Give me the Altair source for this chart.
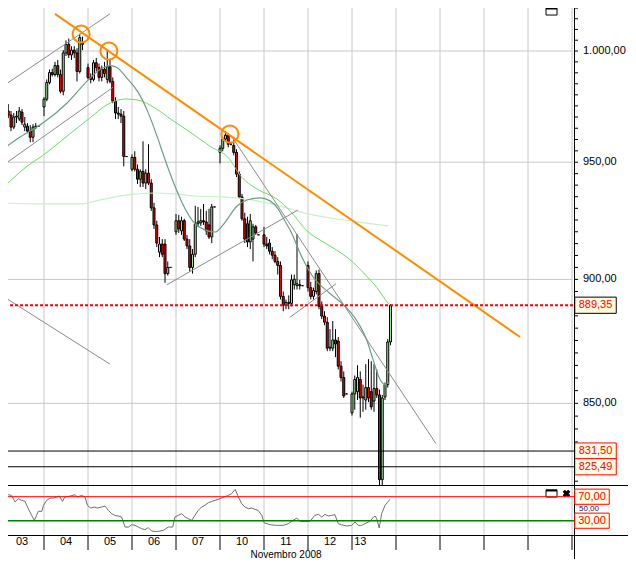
import altair as alt
import pandas as pd

FONT = "Liberation Sans"

# ---------------- data ----------------
days = ["03", "04", "05", "06", "07", "10", "11", "12", "13"]
day_label_slot = [8, 24, 40, 56, 72, 88, 104, 120, 131]
SLOTS = 16          # time slots per session column
N_COLS = 13         # columns shown on the time axis
x_title = "Novembro 2008"

opens = [
    [970.4, 970.4, 970.0, 972.7, 970.9, 965.5, 970.0, 969.1, 972.2, 965.5, 965.9, 963.7, 961.0, 965.5, 965.9],
    [974.5, 978.0, 985.6, 990.1, 989.2, 993.3, 989.2, 981.6, 999.1, 1003.1, 998.2, 1000.4, 999.1, 990.6, 1004.0],
    [992.4, 987.9, 987.0, 994.6, 992.4, 987.9, 991.5, 987.0, 992.8, 986.1, 977.1, 971.8, 971.3, 970.4, 952.5],
    [946.9, 952.1, 946.9, 942.6, 946.0, 940.9, 945.2, 940.9, 930.2, 922.9, 911.4, 914.8, 914.8, 902.4, 905.0],
    [920.0, 924.7, 920.4, 924.7, 916.9, 914.0, 905.0, 910.5, 923.4, 923.8, 924.7, 924.2, 922.9, 917.8, 930.6],
    [954.3, 956.1, 960.2, 961.9, 957.9, 957.4, 954.3, 944.8, 934.9, 925.5, 923.4, 915.7, 916.9, 922.1, 918.7],
    [918.7, 914.8, 915.2, 911.8, 910.1, 907.5, 905.8, 893.0, 889.3, 890.5, 890.1, 897.8, 897.4, 897.8, 897.4],
    [905.8, 896.6, 893.0, 895.0, 902.4, 888.9, 884.9, 882.4, 871.9, 871.9, 875.2, 874.8, 864.7, 860.2, 853.7],
    [846.3, 853.7, 854.6, 859.4, 852.1, 851.3, 856.2, 854.6, 850.9, 855.8, 853.3, 820.6, 852.5, 857.4, 874.4],
]
highs = [
    [973.6, 974.5, 975.4, 975.8, 972.7, 971.8, 972.7, 974.5, 973.6, 970.0, 967.3, 966.4, 966.8, 967.3, 966.0],
    [978.9, 987.0, 991.5, 991.9, 995.0, 995.9, 991.5, 1000.4, 1004.9, 1005.8, 1002.2, 1002.2, 1001.3, 1008.0, 1006.7],
    [994.2, 989.7, 995.9, 996.8, 994.2, 993.3, 995.0, 1000.4, 995.9, 987.9, 978.9, 974.5, 973.6, 972.7, 952.6],
    [953.4, 954.8, 949.0, 946.9, 959.2, 946.9, 957.9, 942.6, 932.4, 924.7, 917.8, 916.9, 916.9, 907.5, 905.1],
    [927.6, 927.2, 926.4, 925.5, 918.7, 916.9, 912.7, 931.1, 930.6, 929.8, 931.9, 928.9, 929.8, 931.9, 930.7],
    [957.4, 961.0, 963.7, 962.8, 958.3, 960.2, 955.7, 946.0, 936.2, 928.1, 926.4, 927.6, 923.4, 922.9, 918.8],
    [922.1, 917.8, 916.9, 913.5, 911.8, 909.3, 907.5, 895.0, 891.7, 893.4, 902.0, 902.0, 919.1, 899.8, 897.5],
    [907.5, 899.0, 896.6, 903.7, 904.1, 890.9, 886.9, 884.5, 879.6, 882.9, 879.6, 876.4, 866.7, 862.6, 853.8],
    [854.6, 861.0, 865.1, 862.6, 857.4, 865.5, 867.5, 866.7, 865.5, 863.4, 855.4, 853.3, 858.2, 875.6, 889.7],
]
lows = [
    [967.7, 968.6, 969.1, 969.5, 963.7, 964.6, 967.3, 968.2, 966.4, 963.7, 962.8, 958.8, 958.8, 964.6, 965.8],
    [970.4, 977.1, 984.8, 988.3, 988.3, 987.9, 980.7, 979.8, 997.7, 996.8, 995.9, 996.8, 986.1, 989.7, 1000.4],
    [987.0, 985.2, 986.1, 990.6, 986.1, 986.1, 987.9, 985.2, 985.2, 976.2, 969.1, 969.1, 967.3, 948.2, 952.4],
    [946.0, 946.0, 940.5, 939.2, 939.2, 938.3, 940.0, 928.9, 921.2, 913.5, 909.3, 909.3, 898.6, 901.6, 904.9],
    [918.7, 919.5, 918.7, 916.1, 912.7, 903.3, 902.4, 909.3, 922.1, 922.5, 922.9, 918.7, 916.9, 915.2, 930.5],
    [949.5, 954.8, 959.2, 956.6, 957.4, 953.0, 943.5, 934.1, 924.7, 915.2, 913.5, 912.7, 907.5, 918.7, 918.6],
    [913.5, 912.7, 910.5, 908.4, 906.7, 902.0, 891.7, 886.9, 887.7, 887.7, 888.9, 895.8, 895.8, 895.8, 897.3],
    [895.0, 891.7, 891.7, 893.8, 887.7, 883.7, 881.2, 870.7, 870.7, 870.7, 868.3, 863.4, 858.6, 852.1, 853.6],
    [845.2, 847.5, 851.3, 844.4, 846.7, 847.5, 850.5, 847.5, 846.7, 852.1, 818.4, 818.4, 851.3, 856.2, 873.1],
]
closes = [
    [970.4, 970.0, 972.7, 970.9, 965.5, 970.0, 970.4, 972.7, 967.7, 966.8, 963.7, 961.0, 965.5, 965.9, 965.9],
    [978.0, 985.6, 990.1, 989.2, 993.3, 989.2, 981.6, 999.1, 1003.1, 998.2, 1000.4, 999.1, 990.6, 1006.2, 1003.1],
    [987.9, 987.0, 994.6, 992.4, 987.9, 991.5, 989.7, 992.8, 986.1, 977.1, 971.8, 971.3, 970.4, 952.5, 952.5],
    [952.1, 946.9, 942.6, 946.0, 940.9, 945.2, 940.9, 930.2, 922.9, 915.2, 914.8, 910.5, 902.4, 905.0, 905.0],
    [924.7, 921.2, 924.7, 916.9, 914.0, 905.0, 910.5, 923.4, 924.2, 924.7, 924.2, 920.4, 917.8, 930.6, 930.6],
    [956.1, 960.2, 961.9, 957.9, 957.9, 954.3, 944.8, 934.9, 925.5, 916.9, 915.7, 924.7, 922.1, 919.5, 918.7],
    [914.8, 914.0, 911.8, 910.1, 907.5, 905.8, 893.0, 889.3, 890.5, 890.1, 899.8, 900.1, 898.2, 897.4, 897.4],
    [896.6, 893.0, 895.4, 902.4, 888.9, 884.9, 882.4, 871.9, 872.3, 875.2, 873.6, 864.7, 860.2, 852.9, 853.7],
    [853.7, 859.4, 860.2, 852.1, 852.5, 856.2, 852.1, 848.6, 855.8, 853.3, 820.6, 852.1, 857.4, 874.4, 889.35],
]

# moving averages (time slot, value)
ma_fast_t = [0, 7.3, 15.6, 24.4, 31.6, 36.4, 40.0, 42.5, 46.2, 50.2, 53.8, 57.1, 60.0, 63.6, 67.3, 70.9, 74.5, 78.2,
             81.1, 86.2, 89.8, 94.5, 98.2, 101.1, 103.6, 106.2, 109.1, 113.8, 120.0, 125.5, 129.8, 133.5, 135.6,
             138.2, 140.0, 141.5]
ma_fast_v = [954.8, 961.1, 967.3, 976.3, 986.1, 991.5, 993.3, 992.4, 987.5, 981.2, 972.2, 961.5, 951.2, 939.6, 929.8,
             923.4, 920.8, 919.9, 922.9, 931.0, 933.6, 934.5, 933.2, 929.8, 924.6, 919.1, 911.0, 901.1, 894.2, 888.9,
             882.9, 874.8, 867.5, 859.4, 857.4, 858.2]
ma_mid_t = [0, 4.4, 9.8, 15.6, 24.4, 32.7, 39.3, 45.5, 50.2, 56.4, 62.5, 69.1, 76.4, 83.6, 87.3, 93.5, 100.7, 105.5,
            111.6, 117.5, 122.5, 128.4, 133.5, 137.1, 140.0, 141.5]
ma_mid_v = [937.5, 942.6, 948.2, 953.0, 961.5, 969.6, 975.8, 978.1, 977.6, 974.0, 968.7, 963.3, 957.0, 951.2, 944.3,
            938.3, 934.0, 928.9, 920.4, 915.7, 912.2, 907.1, 901.1, 896.6, 891.8, 889.7]
ma_slow_t = [0, 14.5, 29.1, 36.4, 46.5, 56.4, 63.6, 70.9, 81.1, 93.5, 105.5, 109.1, 127.3, 141.1]
ma_slow_v = [932.3, 931.9, 931.9, 933.6, 935.8, 936.6, 936.2, 935.3, 934.9, 933.2, 929.8, 928.5, 924.6, 922.5]

# hand drawn trend lines
trend_id = ["a", "a", "b", "b", "c", "c", "d", "d", "e", "e", "f", "f"]
trend_t = [0, 40.0, 0, 41.1, 0, 40.0, 60.7, 108.4, 84.4, 158.5, 105.5, 122.2]
trend_v = [983.0, 1017.3, 947.7, 983.4, 893.8, 865.5, 897.8, 929.3, 961.1, 834.4, 884.5, 898.2]
orange_t = [20.0, 189.1]
orange_v = [1017.3, 876.4]
circle_t = [29.5, 39.6, 83.6]
circle_v = [1007.9, 1000.0, 962.4]

last_price = 889.35
levels = [831.50, 825.49]
price_labels = [850, 900, 950, 1000]
price_ticks = list(range(820, 1021, 5))

# RSI
rsi_t = [0, 1.2, 3.0, 4.2, 5.5, 6.7, 7.9, 9.1, 10.3, 11.5, 12.5, 13.3, 13.9, 15.2, 15.8, 17.0, 18.2, 19.4, 20.6,
         21.6, 22.7, 23.6, 25.5, 27.3, 28.1, 29.7, 30.9, 31.8, 33.0, 34.2, 35.4, 37.0, 38.2, 39.4, 40.6, 41.8, 43.0,
         44.2, 45.5, 46.7, 47.9, 49.1, 50.3, 51.5, 52.7, 53.9, 55.2, 56.4, 57.6, 59.4, 61.2, 62.8, 63.6, 64.8, 66.1,
         67.3, 68.5, 69.7, 70.9, 72.1, 73.3, 74.5, 75.8, 77.0, 78.2, 80.0, 81.5, 83.0, 84.2, 85.5, 86.7, 87.9, 89.1,
         90.3, 91.5, 92.7, 93.9, 95.2, 96.0, 98.2, 100.6, 103.0, 104.8, 106.1, 107.9, 109.1, 110.9, 112.7, 114.5,
         115.8, 117.0, 118.2, 119.4, 120.6, 121.8, 123.0, 124.2, 126.1, 127.9, 129.1, 130.3, 131.5, 132.7, 134.5,
         135.8, 136.4, 137.0, 137.9, 138.8, 140.0, 141.2, 141.8]
rsi_v = [69.4, 72.2, 73.3, 72.2, 61.1, 66.7, 63.9, 62.2, 50.0, 38.9, 30.6, 38.9, 45.6, 45.6, 55.6, 63.9, 67.8, 67.8,
         69.4, 71.1, 62.2, 69.4, 71.1, 73.3, 69.4, 72.2, 69.4, 55.6, 51.1, 52.8, 51.1, 52.8, 54.4, 47.2, 41.7, 38.9,
         37.8, 36.1, 19.4, 19.4, 23.3, 22.2, 19.4, 16.7, 15.0, 18.3, 12.8, 12.2, 12.2, 13.9, 19.4, 19.4, 36.1, 38.9,
         41.7, 36.1, 33.3, 30.6, 38.9, 47.2, 52.8, 55.6, 60.0, 62.2, 63.9, 66.7, 69.4, 72.2, 75.0, 82.2, 69.4, 58.3,
         52.8, 50.0, 51.1, 48.9, 47.2, 38.9, 26.7, 23.3, 22.2, 22.2, 25.0, 28.9, 34.4, 28.9, 28.9, 28.9, 38.9, 40.6,
         36.1, 40.6, 37.8, 38.9, 40.0, 25.0, 23.3, 21.1, 22.2, 27.8, 22.2, 22.2, 25.0, 28.9, 36.1, 37.8, 33.3, 17.8,
         41.7, 55.6, 62.2, 65.6]
rsi_levels = [70, 30]
rsi_mid = 50


# ---------------- tables ----------------
def fmt(v):
    whole, frac = f"{v:.2f}".split(".")
    if len(whole) > 3:
        whole = whole[:-3] + "." + whole[-3:]
    return whole + "," + frac


rows = []
for d in range(len(days)):
    for j in range(len(opens[d])):
        rows.append({"slot": d * SLOTS + j, "open": opens[d][j], "high": highs[d][j],
                     "low": lows[d][j], "close": closes[d][j]})
cdf = pd.DataFrame(rows)

fast_df = pd.DataFrame({"slot": ma_fast_t, "v": ma_fast_v})
mid_df = pd.DataFrame({"slot": ma_mid_t, "v": ma_mid_v})
slow_df = pd.DataFrame({"slot": ma_slow_t, "v": ma_slow_v})
trend_df = pd.DataFrame({"id": trend_id, "slot": trend_t, "v": trend_v})
orange_df = pd.DataFrame({"slot": orange_t, "v": orange_v})
circle_df = pd.DataFrame({"slot": circle_t, "v": circle_v})
last_df = pd.DataFrame({"v": [last_price], "label": [fmt(last_price)]})
lev_df = pd.DataFrame({"v": levels, "label": [fmt(v) for v in levels]})
plab_df = pd.DataFrame({"v": price_labels, "label": [fmt(v) for v in price_labels]})
ptick_df = pd.DataFrame({"v": price_ticks})
bounds_df = pd.DataFrame({"slot": [k * SLOTS for k in range(N_COLS + 1)]})
daylab_df = pd.DataFrame({"slot": day_label_slot, "label": days})
rsi_df = pd.DataFrame({"slot": rsi_t, "r": rsi_v})
rlev_df = pd.DataFrame({"r": rsi_levels, "label": [fmt(v) for v in rsi_levels]})
rmid_df = pd.DataFrame({"r": [rsi_mid], "label": [fmt(rsi_mid)]})
one = pd.DataFrame({"k": [0]})

# ---------------- scales ----------------
xs = alt.Scale(domain=[0, N_COLS * SLOTS], nice=False, zero=False, padding=0)
ps = alt.Scale(type="log", domain=[799.91, 1023.81], nice=False, padding=0)
rs = alt.Scale(domain=[6.17, 897.8], nice=False, zero=False, padding=0)


def X(f="slot"):
    return alt.X(f"{f}:Q", scale=xs, axis=None)


def P(f="v"):
    return alt.Y(f"{f}:Q", scale=ps, axis=None)


def R(f="r"):
    return alt.Y(f"{f}:Q", scale=rs, axis=None)


GREEN = "#9be89b"
RED = "#ee0000"
CREAM = "#ffffe1"
GRID = "#c8c8c8"
BOX_WIDE = "M-1,-0.39H1V0.39H-1Z"
BOX_RSI = "M-1,-0.44H1V0.44H-1Z"
ICON = "M-1,-0.64H1V0.64H-1Z"

# ---------------- grid & axes drawn as marks ----------------
vgrid = alt.Chart(bounds_df[bounds_df.slot > 0]).mark_rule(color=GRID, strokeWidth=1).encode(
    x=X(), y=alt.value(0), y2=alt.value(535))
pgrid = alt.Chart(plab_df).mark_rule(color=GRID, strokeWidth=1).encode(
    y=P(), x=alt.value(0), x2=alt.value(572))
seps = alt.Chart(bounds_df).mark_rule(color="black", strokeWidth=1).encode(
    x=X(), y=alt.value(535), y2=alt.value(550))
day_text = alt.Chart(daylab_df).mark_text(font=FONT, fontSize=11, color="black", baseline="middle").encode(
    x=X(), y=alt.value(542), text="label:N")
title_text = alt.Chart(one).mark_text(font=FONT, fontSize=10, color="black", baseline="middle",
                                      text=x_title).encode(x=alt.value(286), y=alt.value(555))
pticks = alt.Chart(ptick_df).mark_rule(color="black", strokeWidth=1).encode(
    y=P(), x=alt.value(575), x2=alt.value(578))
plabels = alt.Chart(plab_df).mark_text(font=FONT, fontSize=11, color="black", align="left",
                                       baseline="middle").encode(y=P(), x=alt.value(583), text="label:N")

# ---------------- price panel ----------------
wicks = alt.Chart(cdf).mark_rule(color="black", strokeWidth=1).encode(x=X(), y=P("low"), y2="high:Q")
bodies = alt.Chart(cdf).mark_bar(size=2, stroke="black", strokeWidth=1).encode(
    x=X(), y=P("open"), y2="close:Q",
    fill=alt.condition("datum.close > datum.open", alt.value(GREEN), alt.value(RED)))
slow = alt.Chart(slow_df).mark_line(color="#c6f2c6", strokeWidth=1.2, interpolate="monotone").encode(x=X(), y=P())
mid = alt.Chart(mid_df).mark_line(color="#66e066", strokeWidth=1, interpolate="monotone").encode(x=X(), y=P())
fast = alt.Chart(fast_df).mark_line(color="#6a9e86", strokeWidth=1.2, interpolate="monotone").encode(x=X(), y=P())
trends = alt.Chart(trend_df).mark_line(color="#8a8a8a", strokeWidth=1).encode(x=X(), y=P(), detail="id:N")
orange = alt.Chart(orange_df).mark_line(color="#ff8c00", strokeWidth=2).encode(x=X(), y=P())
circles = alt.Chart(circle_df).mark_point(shape="circle", size=290, filled=False, color="#ff8c00",
                                          strokeWidth=2, opacity=1).encode(x=X(), y=P())
lev_lines = alt.Chart(lev_df).mark_rule(color="black", strokeWidth=1).encode(
    y=P(), x=alt.value(0), x2=alt.value(574))
last_line = alt.Chart(last_df).mark_rule(color="#ff0000", strokeWidth=2, strokeDash=[3, 2]).encode(
    y=P(), x=alt.value(0), x2=alt.value(574))
lev_boxes = alt.Chart(lev_df).mark_point(shape=BOX_WIDE, size=1722, filled=True, fill=CREAM,
                                         stroke="#ff0000", strokeWidth=1, opacity=1).encode(
    y=P(), x=alt.value(595.5))
last_box = alt.Chart(last_df).mark_point(shape=BOX_WIDE, size=1722, filled=True, fill=CREAM,
                                         stroke="black", strokeWidth=1, opacity=1).encode(
    y=P(), x=alt.value(595.5))
lev_text = alt.Chart(pd.concat([last_df, lev_df])).mark_text(
    font=FONT, fontSize=11, color="#ff0000", align="center", baseline="middle").encode(
    y=P(), x=alt.value(595.5), text="label:N")

# frame / icons (decoration, pixel placed)
sep_top = alt.Chart(one).mark_rule(color="black", strokeWidth=1).encode(
    y=alt.value(485.5), x=alt.value(0), x2=alt.value(640))
sep_bot = alt.Chart(one).mark_rule(color="black", strokeWidth=1).encode(
    y=alt.value(535.5), x=alt.value(0), x2=alt.value(640))
frame_v = alt.Chart(one).mark_rule(color="black", strokeWidth=1).encode(
    x=alt.value(574.5), y=alt.value(0), y2=alt.value(570))
icon_a = alt.Chart(one).mark_point(shape=ICON, size=121, filled=True, fill="white", stroke="black",
                                   strokeWidth=1, opacity=1).encode(x=alt.value(551.5), y=alt.value(11.5))
icon_b = alt.Chart(one).mark_point(shape=ICON, size=121, filled=True, fill="white", stroke="black",
                                   strokeWidth=1, opacity=1).encode(x=alt.value(551.5), y=alt.value(493.5))
icon_a_top = alt.Chart(one).mark_rule(color="black", strokeWidth=2).encode(
    y=alt.value(8.5), x=alt.value(546), x2=alt.value(557))
icon_b_top = alt.Chart(one).mark_rule(color="black", strokeWidth=2).encode(
    y=alt.value(490.5), x=alt.value(546), x2=alt.value(557))
icon_x = alt.Chart(one).mark_point(shape="cross", size=60, filled=True, color="black", angle=45,
                                   opacity=1).encode(x=alt.value(566.5), y=alt.value(493.5))

price = alt.layer(vgrid, pgrid, wicks, bodies, slow, mid, fast, trends, orange, circles, lev_lines,
                  last_line, pticks, plabels, lev_boxes, last_box, lev_text,
                  seps, day_text, title_text,
                  sep_top, sep_bot, frame_v, icon_a, icon_b, icon_a_top, icon_b_top, icon_x)

# ---------------- RSI panel ----------------
rsi_line = alt.Chart(rsi_df).mark_line(color="#6e6e6e", strokeWidth=1).encode(x=X(), y=R())
r70 = alt.Chart(rlev_df[rlev_df.r == 70]).mark_rule(color="#ff0000", strokeWidth=1).encode(
    y=R(), x=alt.value(0), x2=alt.value(574))
r30 = alt.Chart(rlev_df[rlev_df.r == 30]).mark_rule(color="#008000", strokeWidth=1.5).encode(
    y=R(), x=alt.value(0), x2=alt.value(574))
mid_lbl = alt.Chart(rmid_df).mark_text(font=FONT, fontSize=8, color="#202050", align="left",
                                       baseline="middle").encode(x=alt.value(579), y=R(), text="label:N")
r_boxes = alt.Chart(rlev_df).mark_point(shape=BOX_RSI, size=1190, filled=True, fill=CREAM,
                                        stroke="#ff0000", strokeWidth=1, opacity=1).encode(
    y=R(), x=alt.value(592))
r_text = alt.Chart(rlev_df).mark_text(font=FONT, fontSize=11, color="#ff0000", align="center",
                                      baseline="middle").encode(y=R(), x=alt.value(592), text="label:N")

rsi = alt.layer(rsi_line, r70, r30, mid_lbl, r_boxes, r_text)

# page = 8px margin + svg; svg kept at 620x551 so the whole page is exactly 636x567
chart = alt.layer(price, rsi).resolve_scale(y="independent").properties(
    width=572, height=535,
    padding={"left": -8, "top": -8, "right": 56, "bottom": 24},
    autosize=alt.AutoSizeParams(type="none"),
).configure(font=FONT, background="white").configure_view(stroke=None)

chart.save("out.html", embed_options={"renderer": "svg", "actions": False})
